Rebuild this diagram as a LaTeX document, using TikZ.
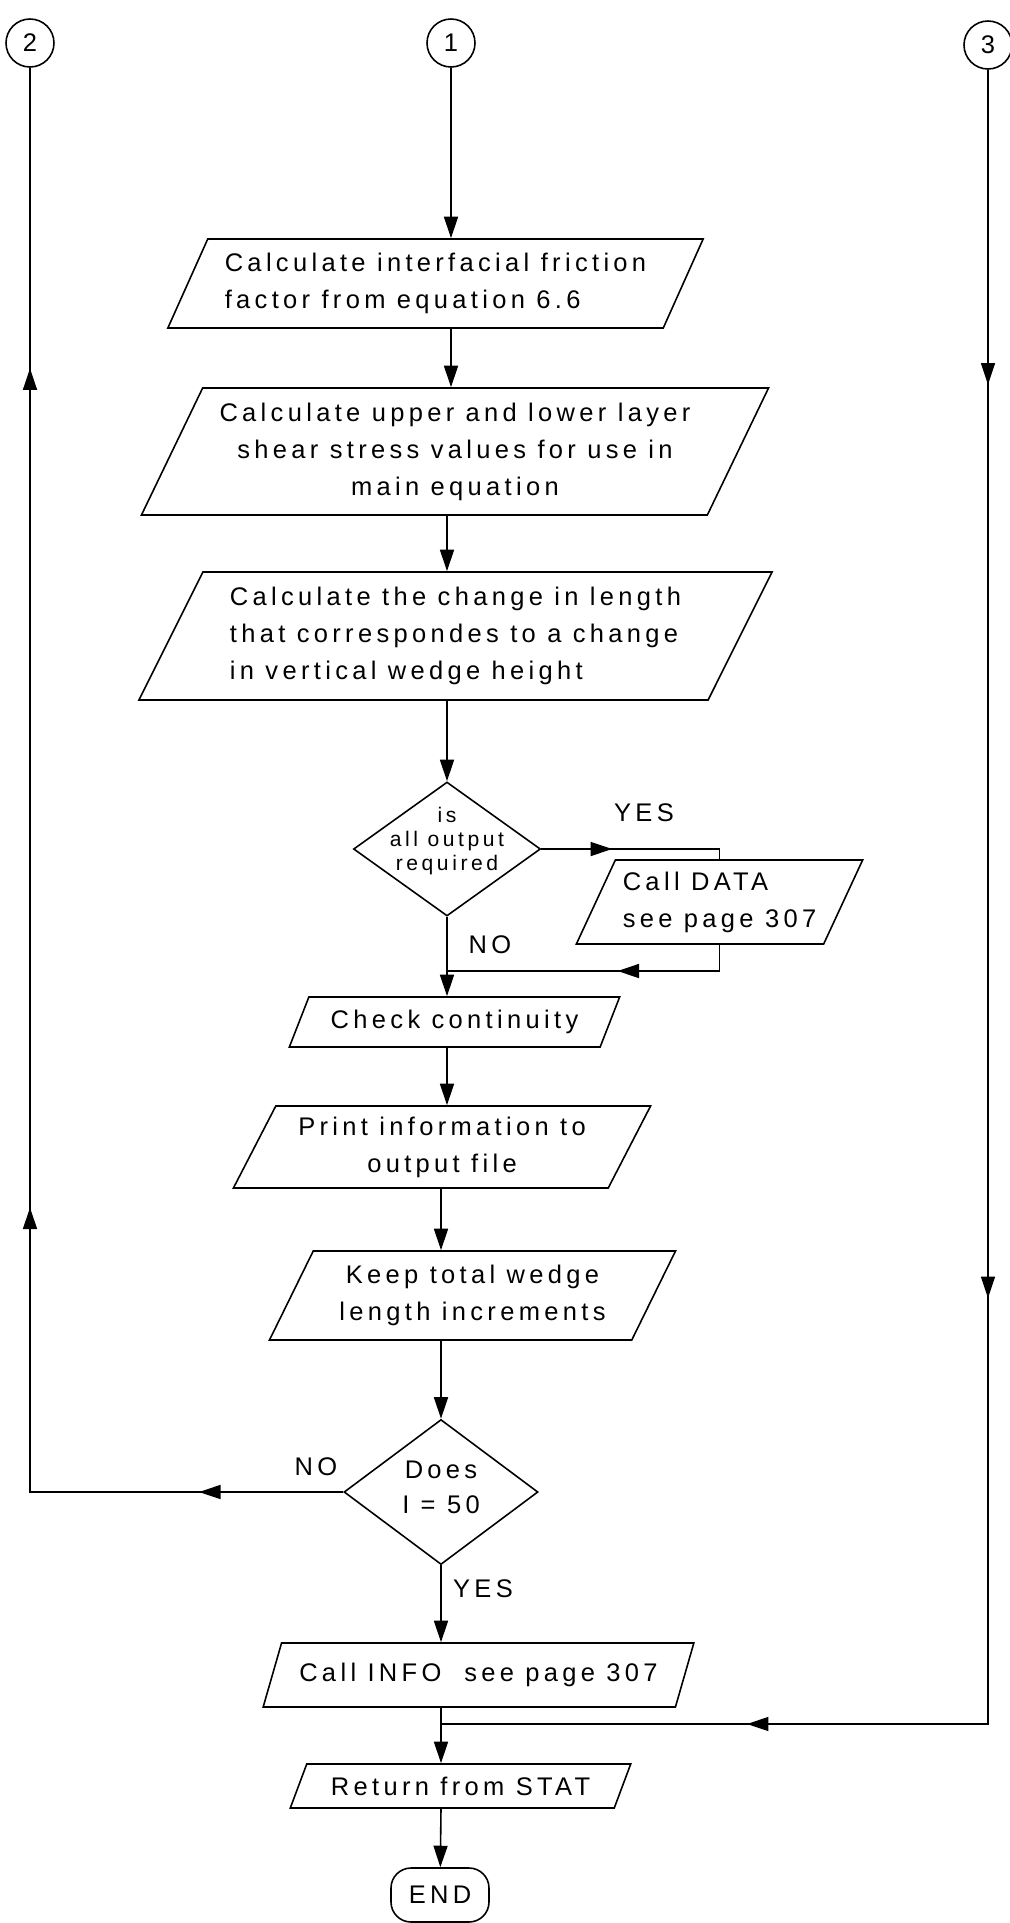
\documentclass[tikz,border=0pt]{standalone}
\usepackage{fontspec}
\setmainfont{Liberation Sans}[LetterSpace=17]
\usetikzlibrary{arrows.meta,shapes.geometric,decorations.markings}

\tikzset{
  procbox/.style={draw, trapezium, trapezium left angle=61, trapezium right angle=119,
    trapezium stretches=true, inner sep=2pt},
  decision/.style={draw, diamond, inner sep=0pt},
  connector/.style={draw, circle, minimum size=9.6mm, inner sep=0pt},
  flow/.style={-{Triangle[length=4.3mm,width=2.8mm]}},
  midflow/.style={postaction={decorate, decoration={markings,
    mark=at position #1 with {\arrow{Triangle[length=4.3mm,width=2.8mm]}}}}},
}

\begin{document}
\begin{tikzpicture}[x=0.2mm, y=-0.2mm, line width=0.9pt,
  every node/.style={font=\fontsize{14.5}{21}\selectfont}]
\useasboundingbox (0,0) rectangle (1010,1923);

% entry points
\node[connector] (c2) at (30,43) {2};
\node[connector] (c1) at (451,43) {1};
\node[connector] (c3) at (988,45) {3};

% main column
\node[procbox, minimum width=107.4mm, minimum height=17.8mm, align=left] (calcf) at (435.5,283.5)
  {Calculate interfacial friction\\factor from equation 6.6};
\node[procbox, minimum width=126mm, minimum height=25.4mm, align=center] (calcs) at (455,451.5)
  {Calculate upper and lower layer\\shear stress values for use in\\main equation};
\node[procbox, minimum width=127mm, minimum height=25.6mm, align=left] (calcl) at (455.5,636)
  {Calculate the change in length\\that correspondes to a change\\in vertical wedge height};
\node[decision, minimum width=37.4mm, minimum height=26.8mm,
  label={[font=\fontsize{12}{13.5}\selectfont, align=center, yshift=1.6mm]center:is\\all output\\required}]
  (allout) at (447,849) {};
\node[procbox, minimum width=57.4mm, minimum height=16.8mm, align=left] (data) at (719.5,902)
  {Call DATA\\see page 307};
\node[procbox, minimum width=66.2mm, minimum height=10mm] (cont) at (454.5,1022) {Check continuity};
\node[procbox, minimum width=83.6mm, minimum height=16.4mm, align=center] (print) at (442,1147)
  {Print information to\\output file};
\node[procbox, minimum width=81.4mm, minimum height=17.8mm, align=center] (keep) at (472.5,1295.5)
  {Keep total wedge\\length increments};
\node[decision, minimum width=38.8mm, minimum height=29mm,
  label={[font=\fontsize{14.5}{20}\selectfont, align=center, yshift=1mm]center:Does\\I = 50}]
  (ifty) at (441,1492) {};
\node[procbox, minimum width=86.2mm, minimum height=12.8mm] (info) at (478.5,1675) {Call INFO\ \ see page 307};
\node[procbox, minimum width=68.2mm, minimum height=8.8mm] (ret) at (460.5,1786) {Return from STAT};
\node[draw, rectangle, rounded corners=4mm, minimum width=19.6mm, minimum height=10.8mm, inner sep=1pt]
  (fin) at (440,1895) {END};

% branch labels
\node (yes1) at (644,813) {YES};
\node (no1) at (490,945) {NO};
\node (no2) at (316,1467) {NO};
\node (yes2) at (483,1589) {YES};

% join points
\coordinate (j1) at (447,971);
\coordinate (j2) at (441,1724);

% connectors
\draw[flow] (c1) -- (c1 |- calcf.north);
\draw[flow] (calcf.south -| c1) -- (calcs.north -| c1);
\draw[flow] (calcs.south -| allout) -- (calcl.north -| allout);
\draw[flow] (calcl.south -| allout) -- (allout.north);
\draw[flow] (allout.south) -- (allout.south |- cont.north);
\draw[midflow=0.376] (allout.east) -| (data.north);
\draw[midflow=0.429] (data.south) |- (j1);
\draw[flow] (cont.south -| allout) -- (print.north -| allout);
\draw[flow] (print.south -| ifty) -- (keep.north -| ifty);
\draw[flow] (keep.south -| ifty) -- (ifty.north);
\draw[flow] (ifty.south) -- (ifty.south |- info.north);
\draw[flow] (info.south -| ifty) -- (ret.north -| ifty);
\draw[flow] (ret.south -| ifty) -- (fin);
\draw[midflow=0.083, midflow=0.344, midflow=0.827] (ifty.west) -| (c2);
\draw[midflow=0.143, midflow=0.558, midflow=0.861] (c3) |- (j2);
\end{tikzpicture}
\end{document}
